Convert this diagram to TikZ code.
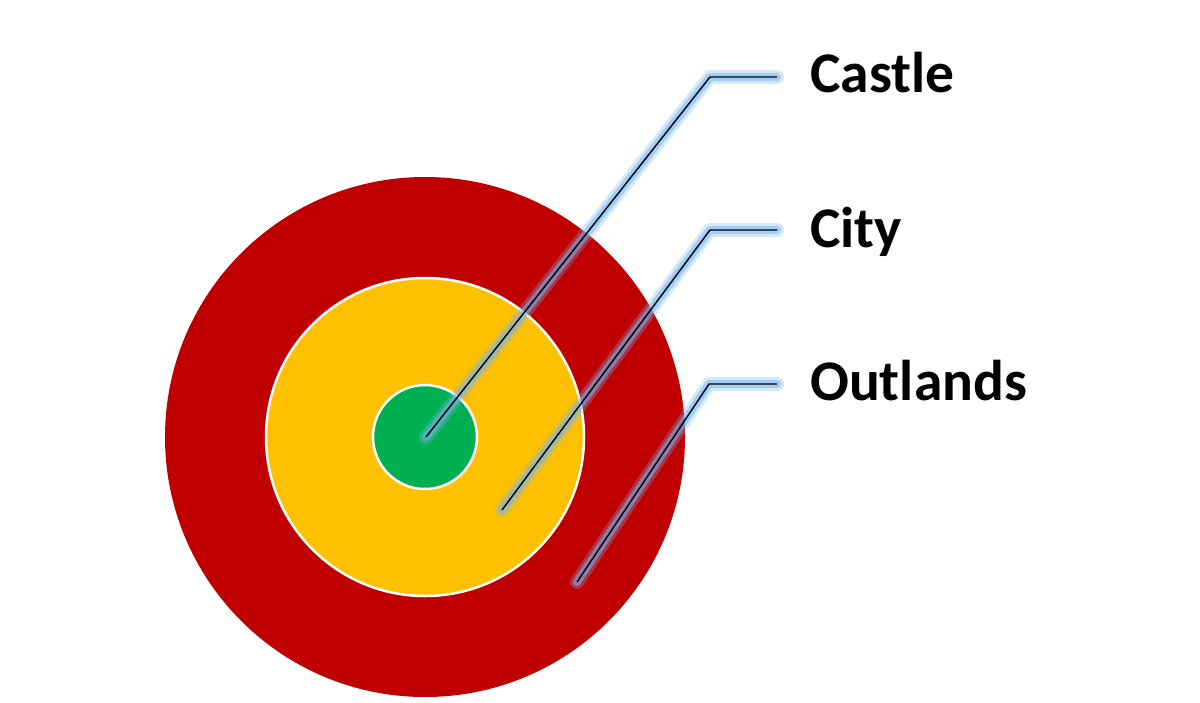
\documentclass[tikz,border=0pt]{standalone}
\usepackage{fontspec}
\setmainfont{Carlito}
\definecolor{outred}{HTML}{C00000}
\definecolor{cityyel}{HTML}{FFC000}
\definecolor{castgrn}{HTML}{00B050}
\definecolor{glowblue}{HTML}{78B6F2}
\begin{document}
\begin{tikzpicture}[x=1pt,y=-1pt,
  ring/.style={draw=white,line width=2.5pt},
  glowwide/.style={draw=glowblue,line width=14pt,opacity=0.3,line join=round,line cap=round},
  glownarrow/.style={draw=glowblue,line width=8pt,opacity=0.55,line join=round,line cap=round},
  leader/.style={draw=black,line width=1.4pt,line join=miter},
  lbl/.style={anchor=base west,inner sep=0pt,font=\fontsize{57.5}{68}\selectfont\bfseries}]
\useasboundingbox (0,0) rectangle (1200,702);
\fill[outred] (425,437) circle[radius=260];
\path[ring,fill=cityyel] (425,437) circle[radius=159];
\path[ring,fill=castgrn] (425,437) circle[radius=52];
% labels
\node[lbl] (castle) at (810,92) {Castle};
\node[lbl] (city) at (810,247) {City};
\node[lbl] (outlands) at (810,400) {Outlands};
% leader coordinates
\coordinate (s1) at (426,437);
\coordinate (b1) at (710,77);
\coordinate (e1) at (777,77);
\coordinate (s2) at (502,510);
\coordinate (b2) at (710,230);
\coordinate (e2) at (777,230);
\coordinate (s3) at (577,582);
\coordinate (b3) at (709,384);
\coordinate (e3) at (777,384);
\foreach \i in {1,2,3}{
  \path[glowwide] (s\i) -- (b\i) -- (e\i);
  \path[glownarrow] (s\i) -- (b\i) -- (e\i);
  \path[leader] (s\i) -- (b\i) -- (e\i);
}
\end{tikzpicture}
\end{document}
